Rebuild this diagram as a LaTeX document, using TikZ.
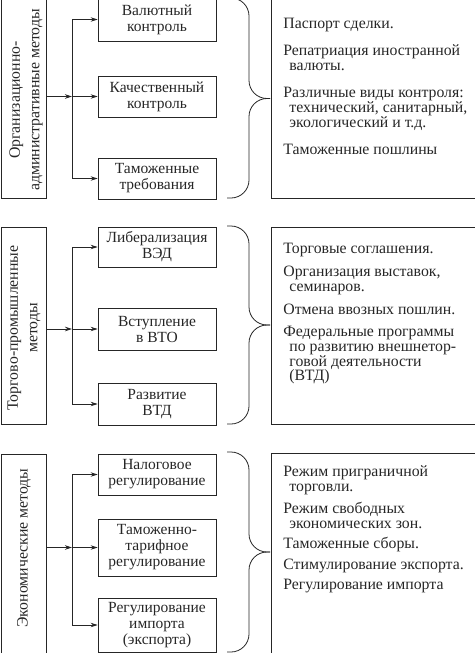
\documentclass[tikz,border=0pt]{standalone}
\usepackage{fontspec}
\setmainfont{Liberation Serif}
\usetikzlibrary{arrows.meta}

\begin{document}
\begin{tikzpicture}[x=1pt,y=-1pt,line width=0.8pt,color=black!85,
  lbox/.style={draw, minimum width=45pt, inner sep=0pt},
  mbox/.style={draw, minimum width=118pt, inner sep=0pt, align=center,
    font=\fontsize{15.5}{16}\selectfont},
  spalte/.style={rotate=90, align=center, inner sep=0pt,
    font=\fontsize{15.8}{19.5}\selectfont},
  liste/.style={anchor=north west, align=left, inner sep=0pt,
    font=\fontsize{15.8}{14.8}\selectfont},
  pfeil/.style={-{Stealth[length=7pt,width=4.5pt]}},
  klammer/.style={rounded corners=18pt}]
\useasboundingbox (0,0) rectangle (474,653);

% Organisational-administrative methods
\node[lbox, minimum height=201pt] (org) at (23.5,97.5) {};
\node[spalte] (org-t) at (26,100) {Организационно-\\административные методы};
\node[mbox, minimum height=43pt] (val) at (157,19.5) {Валютный\\контроль};
\node[mbox, minimum height=41pt] (kach) at (157,96.5) {Качественный\\контроль};
\node[mbox, minimum height=41pt] (tam) at (157,178.5) {Таможенные\\требования};
\coordinate (v1) at (72,0);
\draw (v1 |- val.west) -- (v1 |- tam.west);
\draw[pfeil] (org.east |- kach.west) -- (v1 |- kach.west);
\foreach \b in {val,kach,tam}
  \draw[pfeil] (v1 |- \b.west) -- (\b.west);
\draw[klammer] (227,-2) -- (249,-2) -- (249,98.5) -- (270,98.5);
\draw[klammer] (227,198) -- (249,198) -- (249,98.5) -- (270,98.5);
\draw (271,-2) rectangle (477,198);
\node[liste] (l1) at (283,17.5) {Паспорт сделки.\\[12.5pt]
  Репатриация иностранной\\\hspace*{6pt}валюты.\\[12.5pt]
  Различные виды контроля:\\\hspace*{6pt}технический, санитарный,\\
  \hspace*{6pt}экологический и т.д.\\[12.5pt]
  Таможенные пошлины};

% Trade-industrial methods
\node[lbox, minimum height=197pt] (torg) at (23.5,325.5) {};
\node[spalte] (torg-t) at (24,328) {Торгово-промышленные\\методы};
\node[mbox, minimum height=40pt] (lib) at (157,247) {Либерализация\\ВЭД};
\node[mbox, minimum height=42pt] (vst) at (157,329) {Вступление\\в ВТО};
\node[mbox, minimum height=42pt] (razv) at (157,404) {Развитие\\ВТД};
\coordinate (v2) at (72,0);
\draw (v2 |- lib.west) -- (v2 |- razv.west);
\draw[pfeil] (torg.east |- vst.west) -- (v2 |- vst.west);
\foreach \b in {lib,vst,razv}
  \draw[pfeil] (v2 |- \b.west) -- (\b.west);
\draw[klammer] (227,226) -- (249,226) -- (249,325) -- (270,325);
\draw[klammer] (227,424) -- (249,424) -- (249,325) -- (270,325);
\draw (271,227) rectangle (477,424);
\node[liste] (l2) at (283,243) {Торговые соглашения.\\[8pt]
  Организация выставок,\\\hspace*{6pt}семинаров.\\[8pt]
  Отмена ввозных пошлин.\\[7.5pt]
  Федеральные программы\\\hspace*{6pt}по развитию внешнетор-\\
  \hspace*{6pt}говой деятельности\\\hspace*{6pt}(ВТД)};

% Economic methods
\node[lbox, minimum height=200pt] (econ) at (23.5,554) {};
\node[spalte] (econ-t) at (24,548) {Экономические методы};
\node[mbox, minimum height=41pt] (nal) at (157,474.5) {Налоговое\\регулирование};
\node[mbox, minimum height=57pt] (tamtar) at (157,547.5) {Таможенно-\\тарифное\\регулирование};
\node[mbox, minimum height=54pt] (reg) at (157,625) {Регулирование\\импорта\\(экспорта)};
\coordinate (v3) at (72,0);
\draw (v3 |- nal.west) -- (v3 |- reg.west);
\draw[pfeil] (econ.east |- tamtar.west) -- (v3 |- tamtar.west);
\foreach \b in {nal,tamtar,reg}
  \draw[pfeil] (v3 |- \b.west) -- (\b.west);
\draw[klammer] (227,452) -- (249,452) -- (249,552) -- (270,552);
\draw[klammer] (227,652) -- (249,652) -- (249,552) -- (270,552);
\draw (271,453) rectangle (477,656);
\node[liste] (l3) at (283,465) {Режим приграничной\\\hspace*{6pt}торговли.\\[8pt]
  Режим свободных\\\hspace*{6pt}экономических зон.\\[5.5pt]
  Таможенные сборы.\\[5.5pt]
  Стимулирование экспорта.\\[5.5pt]
  Регулирование импорта};
\end{tikzpicture}
\end{document}
